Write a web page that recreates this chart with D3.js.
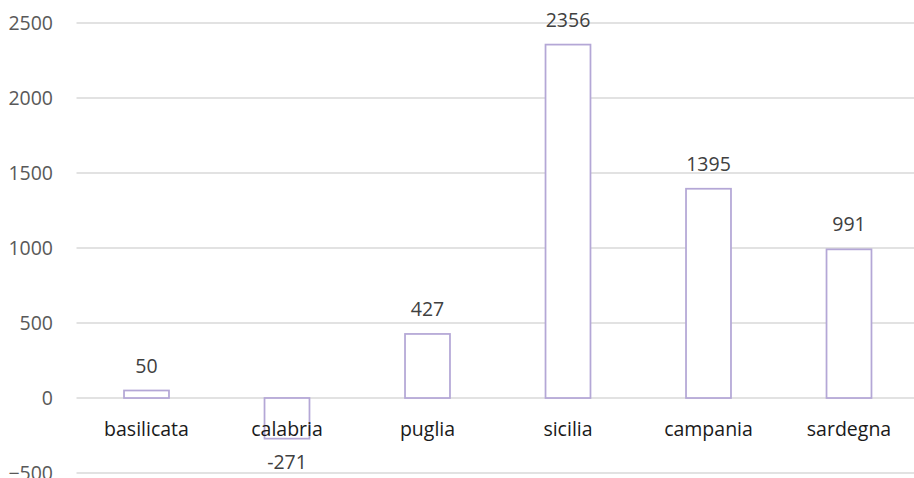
<!DOCTYPE html>
<html>
<head>
<meta charset="utf-8">
<script src="https://cdn.jsdelivr.net/npm/d3@7"></script>
<style>
  html, body { margin: 0; padding: 0; background: #fff; }
  svg { display: block; font-family: "Open Sans", "Liberation Sans", sans-serif; }
</style>
</head>
<body>
<svg id="chart" width="914" height="478"></svg>
<script>
// Regional values
const categories = ["basilicata", "calabria", "puglia", "sicilia", "campania", "sardegna"];
const values = [50, -271, 427, 2356, 1395, 991];
const yTicks = [-500, 0, 500, 1000, 1500, 2000, 2500];

const svg = d3.select("#chart");
const W = 914, H = 478;
const FONT = "'Open Sans', 'Liberation Sans', sans-serif";
const FS = 19.5;

const x = d3.scaleBand()
  .domain(categories)
  .range([76.25, 919.25])
  .paddingInner(0.68)
  .paddingOuter(0.34);

const y = d3.scaleLinear()
  .domain([-500, 2500])
  .range([473, 23]);

// Horizontal gridlines
svg.append("g")
  .selectAll("line")
  .data(yTicks)
  .join("line")
  .attr("x1", 76.5)
  .attr("x2", W)
  .attr("y1", d => y(d))
  .attr("y2", d => y(d))
  .attr("stroke", "#d9d9d9")
  .attr("stroke-width", 1.5);

// Y axis labels
const yAxis = d3.axisLeft(y).tickValues(yTicks).tickFormat(d3.format("d")).tickSize(0).tickPadding(0);
const gy = svg.append("g")
  .attr("transform", "translate(53,0)")
  .call(yAxis);
gy.select(".domain").remove();
gy.selectAll("text")
  .attr("fill", "#595959")
  .attr("font-size", FS)
  .attr("font-family", FONT);

// Bars
svg.append("g")
  .selectAll("rect")
  .data(values)
  .join("rect")
  .attr("x", (d, i) => x(categories[i]))
  .attr("width", x.bandwidth())
  .attr("y", d => y(Math.max(0, d)))
  .attr("height", d => Math.abs(y(d) - y(0)))
  .attr("fill", "#fff")
  .attr("stroke", "#b4a7d6")
  .attr("stroke-width", 1.75);

// Category labels just below the zero line
svg.append("g")
  .selectAll("text")
  .data(categories)
  .join("text")
  .attr("x", d => x(d) + x.bandwidth() / 2)
  .attr("y", y(0) + 38)
  .attr("text-anchor", "middle")
  .attr("fill", "#1a1a1a")
  .attr("font-size", FS)
  .attr("font-family", FONT)
  .text(d => d);

// Value labels (above positive bars, below negative ones)
svg.append("g")
  .selectAll("text")
  .data(values)
  .join("text")
  .attr("x", (d, i) => x(categories[i]) + x.bandwidth() / 2)
  .attr("y", d => d >= 0 ? y(d) - 18 : y(d) + 30.5)
  .attr("text-anchor", "middle")
  .attr("fill", "#404040")
  .attr("font-size", FS)
  .attr("font-family", FONT)
  .text(d => d);
</script>
</body>
</html>
